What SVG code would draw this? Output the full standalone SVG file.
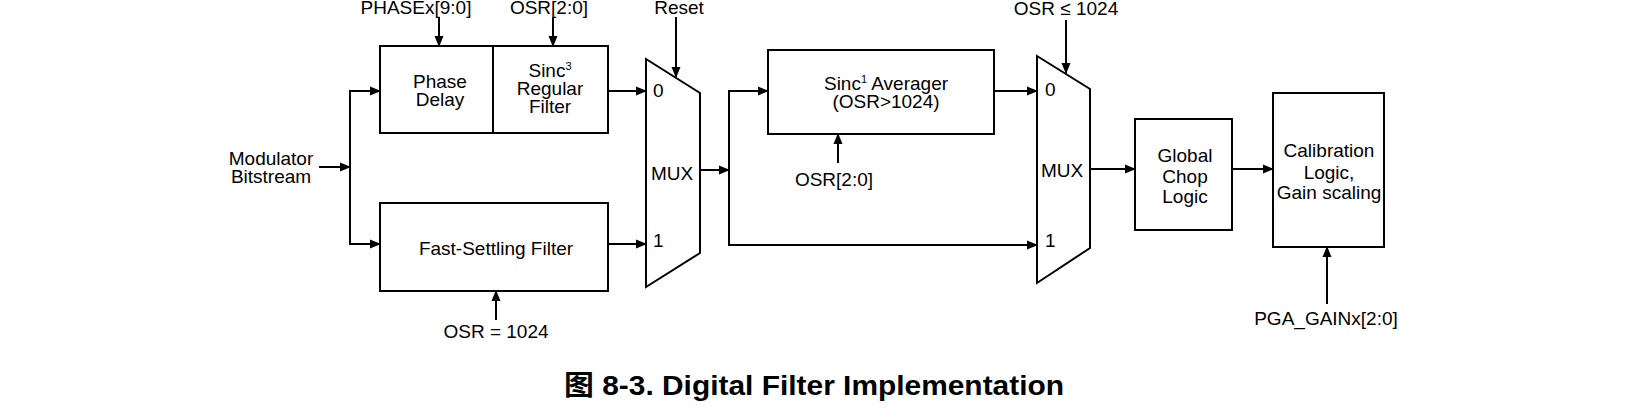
<svg xmlns="http://www.w3.org/2000/svg" width="1635" height="420" viewBox="0 0 1635 420">
<style>
.box{fill:none;stroke:#000;stroke-width:2}
.ln{fill:none;stroke:#000;stroke-width:2}
.ar{fill:none;stroke:#000;stroke-width:2;marker-end:url(#ah)}
text{font-family:"Liberation Sans",Arial,"Noto Sans CJK SC",sans-serif;font-size:19px;fill:#000}
.m{text-anchor:middle}
.title{font-size:28px;font-weight:bold}
</style>
<defs>
<marker id="ah" markerWidth="11" markerHeight="10" refX="10" refY="5" orient="auto" markerUnits="userSpaceOnUse">
<path d="M0,0.5 L11,5 L0,9.5 z" fill="#000"/>
</marker>
</defs>
<rect width="1635" height="420" fill="#fff"/>
<g id="connectors">
<line class="ar" x1="319" y1="167" x2="350" y2="167"/>
<line class="ln" x1="350" y1="90" x2="350" y2="245"/>
<line class="ar" x1="349" y1="91" x2="380" y2="91"/>
<line class="ar" x1="349" y1="244" x2="380" y2="244"/>
<line class="ar" x1="439" y1="17" x2="439" y2="46"/>
<line class="ar" x1="553" y1="17" x2="553" y2="46"/>
<line class="ar" x1="676" y1="17" x2="676" y2="77"/>
<line class="ar" x1="608" y1="91" x2="646" y2="91"/>
<line class="ar" x1="608" y1="244" x2="646" y2="244"/>
<line class="ar" x1="496" y1="320" x2="496" y2="291"/>
<line class="ar" x1="700" y1="170" x2="729" y2="170"/>
<line class="ln" x1="729" y1="90" x2="729" y2="246"/>
<line class="ar" x1="728" y1="91" x2="768" y2="91"/>
<line class="ar" x1="994" y1="91" x2="1037" y2="91"/>
<line class="ar" x1="728" y1="245" x2="1037" y2="245"/>
<line class="ar" x1="838" y1="163" x2="838" y2="134"/>
<line class="ar" x1="1066" y1="20" x2="1066" y2="73"/>
<line class="ar" x1="1090" y1="169" x2="1135" y2="169"/>
<line class="ar" x1="1232" y1="169" x2="1273" y2="169"/>
<line class="ar" x1="1327" y1="304" x2="1327" y2="247"/>
</g>
<g id="input-label">
<text class="m" x="271" y="165">Modulator</text>
<text class="m" x="271" y="183">Bitstream</text>
</g>
<g id="phase-delay">
<rect class="box" x="380" y="46" width="113" height="87"/>
<text class="m" x="440" y="88">Phase</text>
<text class="m" x="440" y="106">Delay</text>
</g>
<g id="sinc3">
<rect class="box" x="493" y="46" width="115" height="87"/>
<text class="m" x="550" y="77">Sinc<tspan font-size="11" dy="-7">3</tspan></text>
<text class="m" x="550" y="95">Regular</text>
<text class="m" x="550" y="113">Filter</text>
</g>
<g id="fast-settling">
<rect class="box" x="380" y="203" width="228" height="88"/>
<text class="m" x="496" y="255">Fast-Settling Filter</text>
</g>
<g id="mux1">
<polygon class="box" points="646,59 700,93 700,253 646,287"/>
<text x="653" y="97">0</text>
<text x="653" y="247">1</text>
<text x="651" y="180">MUX</text>
</g>
<g id="sinc1">
<rect class="box" x="768" y="50" width="226" height="84"/>
<text class="m" x="886" y="90">Sinc<tspan font-size="11" dy="-7">1</tspan><tspan dy="7"> Averager</tspan></text>
<text class="m" x="886" y="108">(OSR&gt;1024)</text>
</g>
<g id="mux2">
<polygon class="box" points="1037,56 1090,89 1090,248 1037,283"/>
<text x="1045" y="96">0</text>
<text x="1045" y="247">1</text>
<text x="1041" y="177">MUX</text>
</g>
<g id="global-chop">
<rect class="box" x="1135" y="119" width="97" height="111"/>
<text class="m" x="1185" y="162">Global</text>
<text class="m" x="1185" y="183">Chop</text>
<text class="m" x="1185" y="203">Logic</text>
</g>
<g id="calibration">
<rect class="box" x="1273" y="93" width="111" height="154"/>
<text class="m" x="1329" y="157">Calibration</text>
<text class="m" x="1329" y="179">Logic,</text>
<text class="m" x="1329" y="199">Gain scaling</text>
</g>
<g id="labels">
<text class="m" x="416" y="14">PHASEx[9:0]</text>
<text class="m" x="549" y="14">OSR[2:0]</text>
<text class="m" x="679" y="14">Reset</text>
<text class="m" x="496" y="338">OSR = 1024</text>
<text class="m" x="834" y="186">OSR[2:0]</text>
<text class="m" x="1066" y="15">OSR ≤ 1024</text>
<text class="m" x="1326" y="325">PGA_GAINx[2:0]</text>
</g>
<g id="caption">
<text class="title" x="564" y="395" textLength="500" lengthAdjust="spacingAndGlyphs">图 8-3. Digital Filter Implementation</text>
</g>
</svg>
